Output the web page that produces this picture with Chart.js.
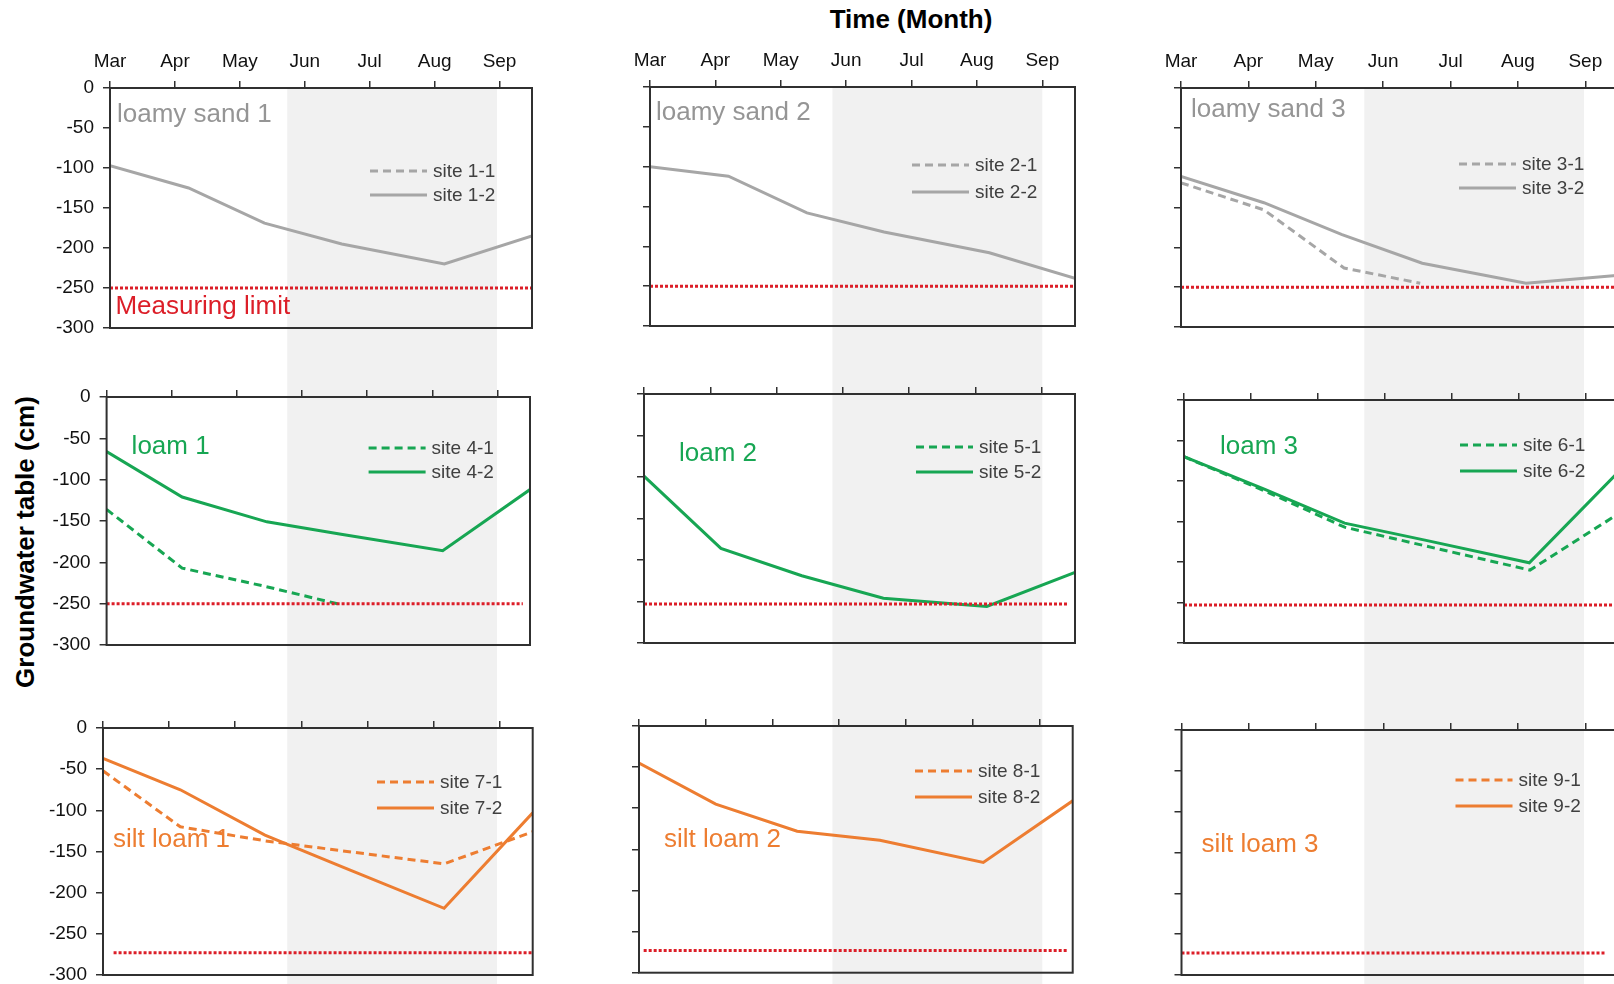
<!DOCTYPE html>
<html><head><meta charset="utf-8">
<script src="https://cdn.jsdelivr.net/npm/chart.js@4/dist/chart.umd.min.js"></script>
<style>
html,body{margin:0;padding:0;background:#fff;overflow:hidden;width:1614px;height:984px;position:relative;}
canvas{position:absolute;}
.title{position:absolute;font-family:"Liberation Sans",Arial,sans-serif;font-weight:bold;font-size:26px;color:#000;white-space:nowrap;line-height:1;}
</style></head><body>
<div class="title" style="left:911px;top:18.5px;transform:translate(-50%,-50%)">Time (Month)</div>
<div class="title" style="left:25px;top:541.5px;transform:translate(-50%,-50%) rotate(-90deg)">Groundwater table (cm)</div>
<script>
// ---------- data ----------
const months = ['Mar','Apr','May','Jun','Jul','Aug','Sep'];
const panelTitles = ['loamy sand 1','loamy sand 2','loamy sand 3','loam 1','loam 2','loam 3','silt loam 1','silt loam 2','silt loam 3'];
const dashedSites = ['site 1-1','site 2-1','site 3-1','site 4-1','site 5-1','site 6-1','site 7-1','site 8-1','site 9-1'];
const solidSites  = ['site 1-2','site 2-2','site 3-2','site 4-2','site 5-2','site 6-2','site 7-2','site 8-2','site 9-2'];

// x = months after 1 March, y = groundwater table (cm)
const s11x = [], s11y = [];
const s12x = [0, 1.21, 2.38, 3.57, 5.15, 6.5], s12y = [-97, -125, -169, -195, -220, -185];
const s21x = [], s21y = [];
const s22x = [0, 1.2, 2.4, 3.58, 5.19, 6.5],   s22y = [-100, -112, -158, -182, -208, -240];
const s31x = [0, 1.23, 2.42, 3.55],            s31y = [-119, -153, -226, -245];
const s32x = [0, 1.23, 2.39, 3.58, 5.12, 6.5], s32y = [-111, -144, -184, -220, -245, -235];
const s41x = [0, 1.16, 2.43, 3.59],            s41y = [-136, -207, -229, -251];
const s42x = [0, 1.16, 2.46, 3.6, 5.16, 6.5],  s42y = [-66, -121, -151, -166, -186, -112];
const s51x = [], s51y = [];
const s52x = [0, 1.16, 2.38, 3.61, 5.17, 6.5], s52y = [-99, -186, -219, -246, -256, -215];
const s61x = [0, 1.2, 2.4, 3.6, 5.17, 6.5],    s61y = [-70, -112, -157, -180, -210, -140];
const s62x = [0, 1.2, 2.4, 3.6, 5.16, 6.5],    s62y = [-70, -110, -152, -173, -201, -88];
const s71x = [0, 1.17, 2.45, 3.6, 5.16, 6.5],  s71y = [-52, -120, -137, -149, -165, -126];
const s72x = [0, 1.17, 2.45, 3.6, 5.16, 6.5],  s72y = [-37, -75, -130, -168, -219, -103];
const s81x = [], s81y = [];
const s82x = [0, 1.15, 2.37, 3.61, 5.16, 6.5], s82y = [-45, -95, -128, -139, -166, -91];
const s91x = [], s91y = [];
const s92x = [], s92y = [];

const limits     = [-250, -250, -250, -250, -253, -253, -273, -273, -273];
const limitStart = [0, 0, 0, 0, 0, 0, 0.16, 0.07, 0];
const limitEnd   = [6.5, 6.5, 6.5, 6.39, 6.39, 6.5, 6.5, 6.42, 6.3];
const dryStart = [2.73, 2.79, 2.72];   // shaded season, per column (months)
const dryEnd   = [5.96, 6.0, 5.98];

const dashedX = [s11x,s21x,s31x,s41x,s51x,s61x,s71x,s81x,s91x];
const dashedY = [s11y,s21y,s31y,s41y,s51y,s61y,s71y,s81y,s91y];
const solidX  = [s12x,s22x,s32x,s42x,s52x,s62x,s72x,s82x,s92x];
const solidY  = [s12y,s22y,s32y,s42y,s52y,s62y,s72y,s82y,s92y];

// ---------- layout / style ----------
const FONT = '"Liberation Sans", Arial, sans-serif';
const TICK_SIZE = 19;
const rects = [[110,88,532,328],[650,87,1075,326],[1181,88,1619,327],
               [106.6,397,530,645],[644,394,1075,643],[1184,400,1619,643],
               [103,728,532.7,975],[639,726,1072.7,972.7],[1181.5,730,1619,975]];
const colX = [[30,560],[560,1100],[1100,1640]];
const rowY = [[0,362],[362,690],[690,1010]];
const axisH = [60, 20, 20];
const lineColors = ['#a6a6a6','#17a653','#ED7D31'];
const textColors = ['#959595','#17a653','#ED7D31'];
const titlePos  = [[7,27],[6,26],[10,22],[25,50],[35,60],[36,47],[10,112],[25,114],[20,115]];
const legendPos = [[260,83,107],[262,78,105],[278,76,100],[262,51,75],[272,53,78],[276,45,71],[274,54,80],[276,45,71],[274,50,76]];
const RED = '#dc1e28';

const zip = (xs, ys) => xs.map((x, k) => ({x, y: ys[k]}));
const rowOne = [];

function makeChart(i) {
  const row = Math.floor(i / 3), col = i % 3;
  const [L, T, R, B] = rects[i];
  const cx = colX[col][0], cw = colX[col][1] - cx, cy = rowY[row][0], ch = rowY[row][1] - cy;
  const cv = document.createElement('canvas');
  cv.width = cw; cv.height = ch;
  Object.assign(cv.style, {left: cx + 'px', top: cy + 'px', width: cw + 'px', height: ch + 'px'});
  document.body.appendChild(cv);
  const Hx = axisH[row], Wy = L - cx;
  const lc = lineColors[row];

  const shade = { id: 'shade', beforeDraw(chart) {
    const ref = rowOne[col] || chart;
    const xs = ref.scales.x;
    const x0 = xs.getPixelForValue(dryStart[col]), x1 = xs.getPixelForValue(dryEnd[col]);
    const top = row === 0 ? chart.chartArea.top : 0;
    const ctx = chart.ctx; ctx.save(); ctx.fillStyle = '#f1f1f1';
    ctx.fillRect(x0, top, x1 - x0, chart.height - top); ctx.restore();
  }};
  const deco = { id: 'deco', afterDraw(chart) {
    const ctx = chart.ctx, a = chart.chartArea;
    ctx.save();
    ctx.strokeStyle = '#303030'; ctx.lineWidth = 2;
    ctx.strokeRect(a.left, a.top, a.right - a.left, a.bottom - a.top);
    // panel title
    ctx.font = '26px ' + FONT; ctx.textBaseline = 'middle'; ctx.textAlign = 'left';
    ctx.fillStyle = textColors[row];
    ctx.fillText(panelTitles[i], a.left + titlePos[i][0], a.top + titlePos[i][1]);
    if (i === 0) { ctx.fillStyle = RED; ctx.fillText('Measuring limit', a.left + 5.4, a.top + 219); }
    // legend
    const [lx, y1, y2] = legendPos[i];
    const ds = chart.data.datasets;
    [[ds[1], y1], [ds[2], y2]].forEach(([d, yy]) => {
      ctx.beginPath(); ctx.setLineDash(d.borderDash || []);
      ctx.strokeStyle = d.borderColor; ctx.lineWidth = d.borderWidth;
      ctx.moveTo(a.left + lx, a.top + yy); ctx.lineTo(a.left + lx + 57, a.top + yy); ctx.stroke();
      ctx.setLineDash([]);
      ctx.font = '19px ' + FONT; ctx.fillStyle = '#404040';
      ctx.fillText(d.label, a.left + lx + 63, a.top + yy + 1);
    });
    ctx.restore();
  }};

  const ch1 = new Chart(cv, {
    type: 'line',
    data: { datasets: [
      {label: 'Measuring limit', data: [{x: limitStart[i], y: limits[i]}, {x: limitEnd[i], y: limits[i]}],
       borderColor: RED, borderWidth: 3, borderDash: [3, 2], pointRadius: 0, borderCapStyle: 'butt'},
      {label: dashedSites[i], data: zip(dashedX[i], dashedY[i]), borderColor: lc, borderWidth: 3, borderDash: [8, 5], pointRadius: 0, tension: 0},
      {label: solidSites[i], data: zip(solidX[i], solidY[i]), borderColor: lc, borderWidth: 3, pointRadius: 0, tension: 0}
    ]},
    options: {
      responsive: false, animation: false, devicePixelRatio: 1,
      layout: { padding: { left: 0, top: T - cy - Hx, right: cx + cw - R, bottom: cy + ch - B } },
      plugins: { legend: { display: false }, tooltip: { enabled: false } },
      scales: {
        x: { type: 'linear', position: 'top', min: 0, max: 6.5,
             afterFit: s => { s.height = Hx; },
             ticks: { stepSize: 1, autoSkip: false, includeBounds: false, maxRotation: 0, padding: 8,
                      color: '#111', font: { family: FONT, size: TICK_SIZE },
                      callback: v => row === 0 ? (months[Math.round(v)] || '') : '' },
             grid: { drawOnChartArea: false, drawTicks: true, tickLength: 7, color: '#303030', lineWidth: 1.5 },
             border: { display: false } },
        y: { type: 'linear', position: 'left', min: -300, max: 0,
             afterFit: s => { s.width = Wy; },
             ticks: { stepSize: 50, autoSkip: false, includeBounds: false, padding: 9,
                      color: '#111', font: { family: FONT, size: TICK_SIZE },
                      callback: v => col === 0 ? String(v) : '' },
             grid: { drawOnChartArea: false, drawTicks: true, tickLength: 7, color: '#303030', lineWidth: 1.5 },
             border: { display: false } }
      }
    },
    plugins: [shade, deco]
  });
  if (row === 0) rowOne[col] = ch1;
}
for (let i = 0; i < 9; i++) makeChart(i);
</script>
</body></html>
